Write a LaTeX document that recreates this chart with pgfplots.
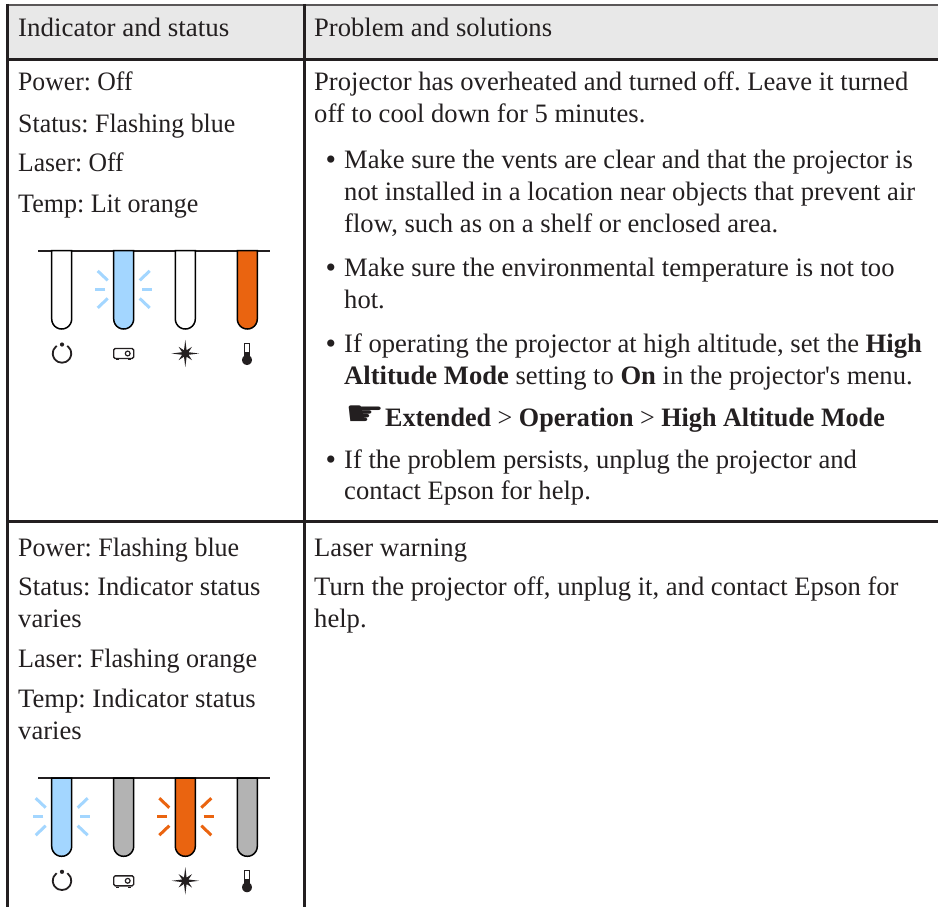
\documentclass[border=0pt]{standalone}
\usepackage{graphicx}
\usepackage{pgfplots}
\usepackage{fontspec}
\pgfplotsset{compat=1.18}
\setmainfont{Liberation Serif}[Ligatures=TeXOff]
\newfontfamily\sym{DejaVu Sans}
\definecolor{ink}{HTML}{231F20}
\definecolor{hdr}{HTML}{E8E8E8}
\definecolor{lblue}{HTML}{A3D6FF}
\definecolor{orng}{HTML}{EA6410}
\definecolor{lgray}{HTML}{B3B3B3}
\newcommand{\T}[3]{\node[anchor=base west,inner sep=0pt,text=ink] at (axis cs:#1,#2) {\frenchspacing #3};}
\newcommand{\TS}[4]{\node[anchor=base west,inner sep=0pt,text=ink] at (axis cs:#1,#2) {\scalebox{#3}[1]{\frenchspacing #4}};}
\newcommand{\B}[1]{\node[anchor=base west,inner sep=0pt,text=ink] at (axis cs:325.5,#1+1.5) {\fontsize{30pt}{30pt}\selectfont •};}
\newcommand{\tube}[3]{\addplot[draw=black,line width=1.5pt,fill=#3,shift={(axis direction cs:#1,#2)}] coordinates {(-10,0)(-10,68.3)(-9.66,70.9)(-8.66,73.3)(-7.07,75.4)(-5,77)(-2.59,78)(0,78.3)(2.59,78)(5,77)(7.07,75.4)(8.66,73.3)(9.66,70.9)(10,68.3)(10,0)} -- cycle;}
\newcommand{\rays}[3]{%
\addplot[draw=#3,line width=3pt,shift={(axis direction cs:#1,#2)}] coordinates {(18.3,0)(28.7,0)};
\addplot[draw=#3,line width=3pt,shift={(axis direction cs:#1,#2)}] coordinates {(-18.3,0)(-28.7,0)};
\addplot[draw=#3,line width=3pt,shift={(axis direction cs:#1,#2)}] coordinates {(16,-9)(26,-18.5)};
\addplot[draw=#3,line width=3pt,shift={(axis direction cs:#1,#2)}] coordinates {(-16,-9)(-26,-18.5)};
\addplot[draw=#3,line width=3pt,shift={(axis direction cs:#1,#2)}] coordinates {(16,9)(26,18.5)};
\addplot[draw=#3,line width=3pt,shift={(axis direction cs:#1,#2)}] coordinates {(-16,9)(-26,18.5)};}
\newcommand{\icons}[1]{%
% power
\addplot[draw=ink,line width=1.8pt,smooth,shift={(axis direction cs:62,#1)}] coordinates {(5.3,-7.6)(8.4,-3.9)(9.2,0.8)(7.6,5.3)(3.9,8.4)(0,9.2)(-3.9,8.4)(-7.6,5.3)(-9.2,0.8)(-8.4,-3.9)(-5.3,-7.6)};
\addplot[draw=none,fill=ink,shift={(axis direction cs:62,#1)}] coordinates {(2.1,-9)(1.5,-7.5)(0,-6.9)(-1.5,-7.5)(-2.1,-9)(-1.5,-10.5)(0,-11.1)(1.5,-10.5)} -- cycle;
% projector
\addplot[draw=ink,line width=1.4pt,fill=white,shift={(axis direction cs:123.7,#1)}] coordinates {(-8.5,-5)(8.5,-5)(10,-3.5)(10,3.5)(8.5,5)(-8.5,5)(-10,3.5)(-10,-3.5)} -- cycle;
\addplot[draw=ink,line width=1.2pt,fill=white,smooth,shift={(axis direction cs:123.7,#1)}] coordinates {(6.4,0)(5.7,-1.7)(4,-2.4)(2.3,-1.7)(1.6,0)(2.3,1.7)(4,2.4)(5.7,1.7)} -- cycle;
\addplot[draw=ink,line width=1.2pt,shift={(axis direction cs:123.7,#1)}] coordinates {(-7.5,6.3)(-4.5,6.3)};
\addplot[draw=ink,line width=1.2pt,shift={(axis direction cs:123.7,#1)}] coordinates {(4.5,6.3)(7.5,6.3)};
% star
\addplot[draw=none,fill=ink,shift={(axis direction cs:185.3,#1)}] coordinates {(13.7,0)(3.2,-1.3)(6.7,-6.7)(1.3,-3.2)(0,-13.7)(-1.3,-3.2)(-6.7,-6.7)(-3.2,-1.3)(-13.7,0)(-3.2,1.3)(-6.7,6.7)(-1.3,3.2)(0,13.7)(1.3,3.2)(6.7,6.7)(3.2,1.3)} -- cycle;
% thermometer
\addplot[draw=ink,line width=1.3pt,fill=white,shift={(axis direction cs:247,#1)}] coordinates {(-2.6,-10.2)(2.6,-10.2)(2.6,5)(-2.6,5)} -- cycle;
\addplot[draw=none,fill=ink,shift={(axis direction cs:247,#1)}] coordinates {(-2.6,-2)(2.6,-2)(2.6,5)(-2.6,5)} -- cycle;
\addplot[draw=none,fill=ink,shift={(axis direction cs:247,#1)}] coordinates {(5,6.5)(4.3,3.9)(2.5,2.2)(0,1.5)(-2.5,2.2)(-4.3,3.9)(-5,6.5)(-4.3,9)(-2.5,10.8)(0,11.5)(2.5,10.8)(4.3,9)} -- cycle;}
\begin{document}
\begin{tikzpicture}
\begin{axis}[
  scale only axis,width=938pt,height=907pt,
  xmin=0,xmax=938,ymin=0,ymax=907,y dir=reverse,
  hide axis,clip=true,
  nodes={font=\fontsize{26.6pt}{30pt}\selectfont},
]
% header and rules
\addplot[draw=none,fill=hdr] coordinates {(7,5)(938,5)(938,59)(7,59)} -- cycle;
\addplot[draw=ink!75,line width=2.2pt] coordinates {(7,5)(938,5)};
\addplot[draw=ink,line width=3pt] coordinates {(7,59.5)(938,59.5)};
\addplot[draw=ink,line width=3pt] coordinates {(7,521)(938,521)};
\addplot[draw=ink,line width=3pt] coordinates {(7.3,4)(7.3,907)};
\addplot[draw=ink,line width=3pt] coordinates {(304,4)(304,907)};
% indicators, first group
\addplot[draw=ink,line width=1.9pt] coordinates {(38,250.7)(270,250.7)};
\tube{61.7}{250.7}{white}\tube{123.7}{250.7}{lblue}\tube{185.3}{250.7}{white}\tube{247.3}{250.7}{orng}
\rays{123.7}{289.4}{lblue}
\icons{353.5}
% indicators, second group
\addplot[draw=ink,line width=1.9pt] coordinates {(38,778)(270,778)};
\tube{61.7}{778}{lblue}\tube{123.7}{778}{lgray}\tube{185.3}{778}{orng}\tube{247.3}{778}{lgray}
\rays{61.7}{816.7}{lblue}\rays{185.3}{816.7}{orng}
\icons{880.8}
% text
\TS{18}{37}{1.014}{Indicator and status}
\T{314}{37}{Problem and solutions}
\TS{18}{91}{0.966}{Power: Off}
\TS{18}{132}{0.973}{Status: Flashing blue}
\TS{18}{171}{0.963}{Laser: Off}
\TS{18}{212}{0.978}{Temp: Lit orange}
\T{314}{91}{Projector has overheated and turned off. Leave it turned}
\T{314}{123}{off to cool down for 5 minutes.}
\B{168}\T{344}{168}{Make sure the vents are clear and that the projector is}
\T{344}{200}{not installed in a location near objects that prevent air}
\T{344}{232}{flow, such as on a shelf or enclosed area.}
\B{276}\T{344}{276}{Make sure the environmental temperature is not too}
\T{344}{308}{hot.}
\B{352}\T{344}{352}{If operating the projector at high altitude, set the \textbf{High}}
\T{344}{384}{\textbf{Altitude Mode} setting to \textbf{On} in the projector's menu.}
\node[anchor=base west,inner sep=0pt,text=ink] at (axis cs:345,425) {\scalebox{1.65}[1.3]{\sym ☛}};
\TS{385}{426}{0.982}{\textbf{Extended} > \textbf{Operation} > \textbf{High Altitude Mode}}
\B{468}\T{344}{468}{If the problem persists, unplug the projector and}
\T{344}{499}{contact Epson for help.}
\TS{18}{556}{0.978}{Power: Flashing blue}
\T{18}{595}{Status: Indicator status}
\T{18}{627}{varies}
\TS{18}{667}{0.98}{Laser: Flashing orange}
\T{18}{707}{Temp: Indicator status}
\T{18}{739}{varies}
\T{314}{556}{Laser warning}
\T{314}{595}{Turn the projector off, unplug it, and contact Epson for}
\T{314}{627}{help.}
\end{axis}
\pgfresetboundingbox
\path[use as bounding box] (0,0) rectangle (938pt,907pt);
\end{tikzpicture}
\end{document}
